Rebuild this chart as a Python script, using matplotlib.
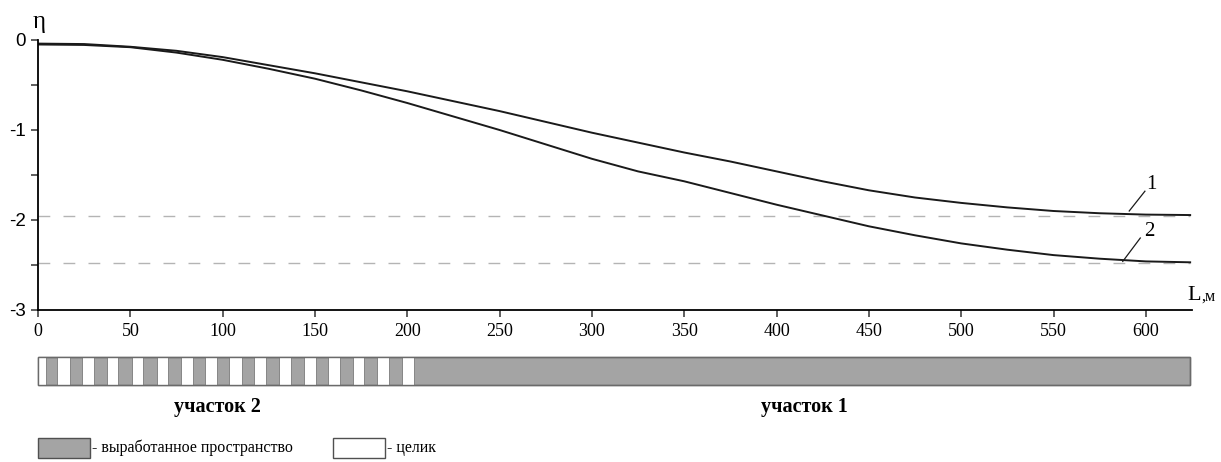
"""
Subsidence curves (eta vs L) above the worked-out area, with the pillar layout strip.
"""

import matplotlib
matplotlib.use("Agg")
import matplotlib.pyplot as plt
from matplotlib.patches import Rectangle
from matplotlib.ticker import MultipleLocator

# --- data ---
L = [0, 25, 50, 75, 100, 125, 150, 175, 200, 225, 250, 275, 300,
     325, 350, 375, 400, 425, 450, 475, 500, 525, 550, 575, 600, 624]
eta_1 = [-0.04, -0.045, -0.075, -0.12, -0.19, -0.28, -0.37, -0.47, -0.57,
         -0.68, -0.79, -0.91, -1.03, -1.14, -1.25, -1.35, -1.46, -1.57,
         -1.67, -1.75, -1.81, -1.86, -1.90, -1.925, -1.94, -1.945]
eta_2 = [-0.05, -0.055, -0.08, -0.14, -0.22, -0.32, -0.43, -0.56, -0.70,
         -0.85, -1.00, -1.16, -1.32, -1.46, -1.57, -1.70, -1.83, -1.95,
         -2.07, -2.17, -2.26, -2.33, -2.39, -2.43, -2.46, -2.47]
eta_max = [-1.95, -2.48]          # dashed reference levels for curves 1 and 2

strip_length = 624                # worked-out strip, m
pillar_start = [0, 10.3, 23.8, 37.4, 50.9, 64.4, 77.4, 90.4, 103.4, 117.0,
                130.5, 144.0, 157.0, 170.6, 183.7, 197.2]
pillar_width = [4.3, 7.0, 6.5, 5.9, 6.0, 6.0, 6.5, 6.5, 7.1, 6.5,
                6.5, 6.5, 6.5, 6.0, 6.4, 6.5]
section_names = ["участок 2", "участок 1"]
section_centres = [97, 415]

W, H = 1221, 462
SERIF = "Liberation Serif"
SANS = "Liberation Sans"
GREY = "#a4a4a4"

fig = plt.figure(figsize=(W / 100, H / 100), dpi=100)

# main axes: x 0..625 -> px 38..1192, y 0..-3 -> px 40..310
ax = fig.add_axes([38 / W, 1 - 310 / H, (1192 - 38) / W, 270 / H])
ax.set_xlim(0, 625)
ax.set_ylim(-3, 0)

for lvl in eta_max:
    ax.plot([0, strip_length], [lvl, lvl], color="#b4b4b4", lw=1.0,
            dashes=(8.5, 9.5))
ax.plot(L, eta_1, color="#1a1a1a", lw=1.4)
ax.plot(L, eta_2, color="#1a1a1a", lw=1.4)

# curve labels with leader lines
ax.plot([591, 599.5], [-1.90, -1.68], color="#1a1a1a", lw=0.9)
ax.text(603, -1.61, "1", fontsize=15, family=SERIF, ha="center", va="center")
ax.plot([587.5, 597], [-2.46, -2.20], color="#1a1a1a", lw=0.9)
ax.text(602, -2.13, "2", fontsize=15, family=SERIF, ha="center", va="center")

for side in ("top", "right"):
    ax.spines[side].set_visible(False)
for side in ("left", "bottom"):
    ax.spines[side].set_linewidth(1.3)
ax.set_xticks(range(0, 601, 50))
ax.yaxis.set_minor_locator(MultipleLocator(0.5))
ax.tick_params(axis="both", which="both", direction="out", length=5,
               width=1.1, color="#333333")
ax.tick_params(axis="x", pad=4)
ax.tick_params(axis="y", pad=4)
for t in ax.get_xticklabels():
    t.set_fontfamily(SERIF)
    t.set_fontsize(13)
ax.set_yticks([0, -1, -2, -3])
ax.set_yticklabels(["0", "-1", "-2", "-3"], family=SANS, fontsize=13.5)

# axis names
fig.text(39 / W, 1 - 22 / H, "η", fontsize=18, family=SERIF,
         ha="center", va="center")
fig.text(1187 / W, 1 - 295 / H, "L", fontsize=16, family=SERIF,
         ha="left", va="center")
fig.text(1201 / W, 1 - 297 / H, ",м", fontsize=11.5, family=SERIF,
         ha="left", va="center")

# strip with pillars
sx = fig.add_axes([38 / W, 1 - 385 / H, (1192 - 38) / W, 28 / H])
sx.set_xlim(0, 625)
sx.set_ylim(0, 1)
sx.axis("off")
sx.barh(0.5, strip_length, left=0, height=1, color=GREY,
        edgecolor="#6a6a6a", lw=1.0, clip_on=False)
sx.barh(0.5, pillar_width, left=pillar_start, height=1, color="white",
        edgecolor="#7a7a7a", lw=0.6, clip_on=False)
sx.barh(0.5, strip_length, left=0, height=1, color="none",
        edgecolor="#6a6a6a", lw=1.0, clip_on=False)
for name, xc in zip(section_names, section_centres):
    sx.text(xc, -0.8, name, fontsize=14.5, family=SERIF, fontweight="bold",
            ha="center", va="center")

# legend (pixel coordinates)
lg = fig.add_axes([0, 0, 1, 1])
lg.set_xlim(0, W)
lg.set_ylim(H, 0)
lg.axis("off")
lg.add_patch(Rectangle((38, 438), 52, 20, facecolor=GREY,
                       edgecolor="#505050", lw=1.0))
lg.text(92, 448, "- выработанное пространство", fontsize=11.5, family=SERIF,
        ha="left", va="center")
lg.add_patch(Rectangle((333, 438), 52, 20, facecolor="white",
                       edgecolor="#505050", lw=1.0))
lg.text(387, 448, "- целик", fontsize=11.5, family=SERIF,
        ha="left", va="center")

fig.savefig("out.png", dpi=100)
plt.close(fig)
